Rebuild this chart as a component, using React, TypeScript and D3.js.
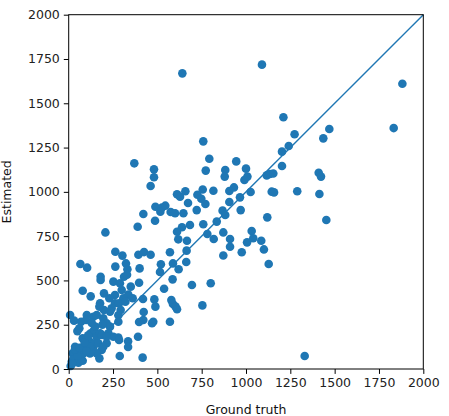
import React, { useEffect, useRef } from 'react'
import * as d3 from 'd3'

// values
const groundTruth = [
  759, 793, 773, 756, 816, 726, 748, 722, 771, 759, 782, 818, 835, 868, 883, 872, 910, 910, 872, 883,
  880, 906, 932, 906, 945, 966, 970, 976, 1000, 1008, 991, 1026, 1032, 1006, 1041, 1086, 1101, 1120, 1128, 1117,
  1135, 1154, 1145, 1158, 1203, 1241, 1274, 1203, 1211, 1289, 1436, 1470, 1410, 1423, 1414, 1453, 1331, 1090, 1882, 1833,
  641, 370, 481, 481, 462, 489, 526, 545, 517, 487, 421, 389, 575, 600, 611, 628, 658, 647, 673, 684,
  639, 611, 618, 667, 665, 663, 695, 801, 754, 571, 588, 620, 586, 538, 520, 515, 579, 588, 603, 611,
  571, 483, 489, 477, 470, 421, 397, 423, 419, 397, 400, 393, 425, 462, 417, 391, 335, 335, 288, 280,
  263, 303, 263, 323, 331, 312, 329, 252, 289, 299, 350, 336, 361, 308, 261, 261, 284, 320, 293, 280,
  280, 242, 229, 199, 207, 180, 180, 177, 199, 233, 195, 214, 233, 224, 252, 284, 214, 186, 173, 158,
  139, 124, 66, 104, 79, 124, 8, 30, 70, 102, 98, 139, 158, 173, 49, 79, 102, 143, 158, 177,
  120, 83, 105, 120, 23, 41, 64, 17, 55, 79, 45, 83, 145, 120, 167, 188, 214, 195, 11, 68,
  36, 25, 50, 35, 60, 90, 110, 150, 130, 60, 190, 20, 100,
]
const estimated = [
  1285, 1187, 1120, 1013, 1006, 984, 961, 897, 931, 817, 762, 734, 832, 894, 869, 771, 734, 690, 641, 1123,
  1086, 1005, 1025, 943, 1172, 969, 897, 659, 1131, 1086, 1067, 999, 779, 715, 738, 724, 675, 856, 593, 1093,
  1101, 1104, 1001, 997, 1227, 1259, 1325, 1146, 1421, 1003, 1302, 1355, 1108, 1086, 988, 841, 73, 1718, 1610, 1360,
  1669, 1161, 1127, 1082, 1033, 916, 912, 922, 888, 837, 875, 803, 886, 879, 986, 973, 1003, 879, 937, 813,
  800, 775, 732, 724, 668, 604, 474, 484, 359, 659, 596, 563, 506, 453, 591, 548, 389, 367, 352, 337,
  267, 393, 352, 267, 258, 277, 265, 322, 395, 487, 568, 645, 660, 645, 64, 182, 156, 124, 73, 177,
  662, 640, 578, 596, 563, 521, 532, 493, 484, 446, 465, 420, 399, 399, 418, 371, 371, 380, 333, 303,
  267, 342, 399, 427, 771, 521, 502, 371, 333, 324, 286, 258, 239, 201, 182, 164, 145, 107, 60, 88,
  126, 201, 593, 572, 442, 410, 305, 273, 267, 305, 277, 295, 305, 352, 214, 173, 173, 220, 182, 201,
  154, 126, 107, 88, 88, 60, 70, 41, 36, 47, 98, 88, 145, 126, 145, 192, 182, 126, 17, 88,
  126, 55, 75, 110, 120, 150, 190, 240, 260, 230, 250, 30, 100,
]
const tickValues = [0, 250, 500, 750, 1000, 1250, 1500, 1750, 2000]
const xLabel = 'Ground truth'
const yLabel = 'Estimated'

const App = () => {
  const ref = useRef<SVGSVGElement>(null)

  useEffect(() => {
    document.body.style.margin = '0'
    const width = 449
    const height = 416
    const left = 68.7
    const right = 423.3
    const top = 14.7
    const bottom = 369
    const color = '#1f77b4'
    const font = 'DejaVu Sans, sans-serif'

    const svg = d3.select(ref.current)
    svg.selectAll('*').remove()
    svg.attr('width', width).attr('height', height)

    const x = d3.scaleLinear().domain([0, 2000]).range([left, right])
    const y = d3.scaleLinear().domain([0, 2000]).range([bottom, top])

    const points = groundTruth.map((g, i) => ({ g, e: estimated[i] }))

    svg
      .append('g') // dots
      .selectAll('circle')
      .data(points)
      .enter()
      .append('circle')
      .attr('cx', d => x(d.g))
      .attr('cy', d => y(d.e))
      .attr('r', 4.3)
      .attr('fill', color)

    svg
      .append('path') // identity line
      .datum([0, 2000])
      .attr('d', d3.line<number>().x(d => x(d)).y(d => y(d)))
      .attr('stroke', color)
      .attr('stroke-width', 1.4)
      .attr('fill', 'none')

    svg
      .append('rect') // frame
      .attr('x', left)
      .attr('y', top)
      .attr('width', right - left)
      .attr('height', bottom - top)
      .attr('fill', 'none')
      .attr('stroke', '#000')
      .attr('stroke-width', 1)

    const xAxis = d3.axisBottom(x).tickValues(tickValues).tickSize(4.9).tickPadding(4).tickFormat(d3.format('d'))
    const gx = svg.append('g').attr('transform', `translate(0,${bottom})`).call(xAxis)
    const yAxis = d3.axisLeft(y).tickValues(tickValues).tickSize(4.9).tickPadding(4).tickFormat(d3.format('d'))
    const gy = svg.append('g').attr('transform', `translate(${left},0)`).call(yAxis)
    for (const g of [gx, gy]) {
      g.select('.domain').remove()
      g.selectAll('line').attr('stroke', '#000').attr('stroke-width', 1)
      g.selectAll('text').attr('fill', '#222').style('font-family', font).style('font-size', '12.5px')
    }

    svg
      .append('text') // x label
      .attr('x', (left + right) / 2)
      .attr('y', 414)
      .attr('text-anchor', 'middle')
      .attr('fill', '#111')
      .style('font-family', font)
      .style('font-size', '12.5px')
      .text(xLabel)

    svg
      .append('text') // y label
      .attr('transform', `translate(10.5,${(top + bottom) / 2}) rotate(-90)`)
      .attr('text-anchor', 'middle')
      .attr('fill', '#111')
      .style('font-family', font)
      .style('font-size', '12.5px')
      .text(yLabel)
  }, [])

  return <svg ref={ref} style={{ display: 'block' }}></svg>
}

export default App
